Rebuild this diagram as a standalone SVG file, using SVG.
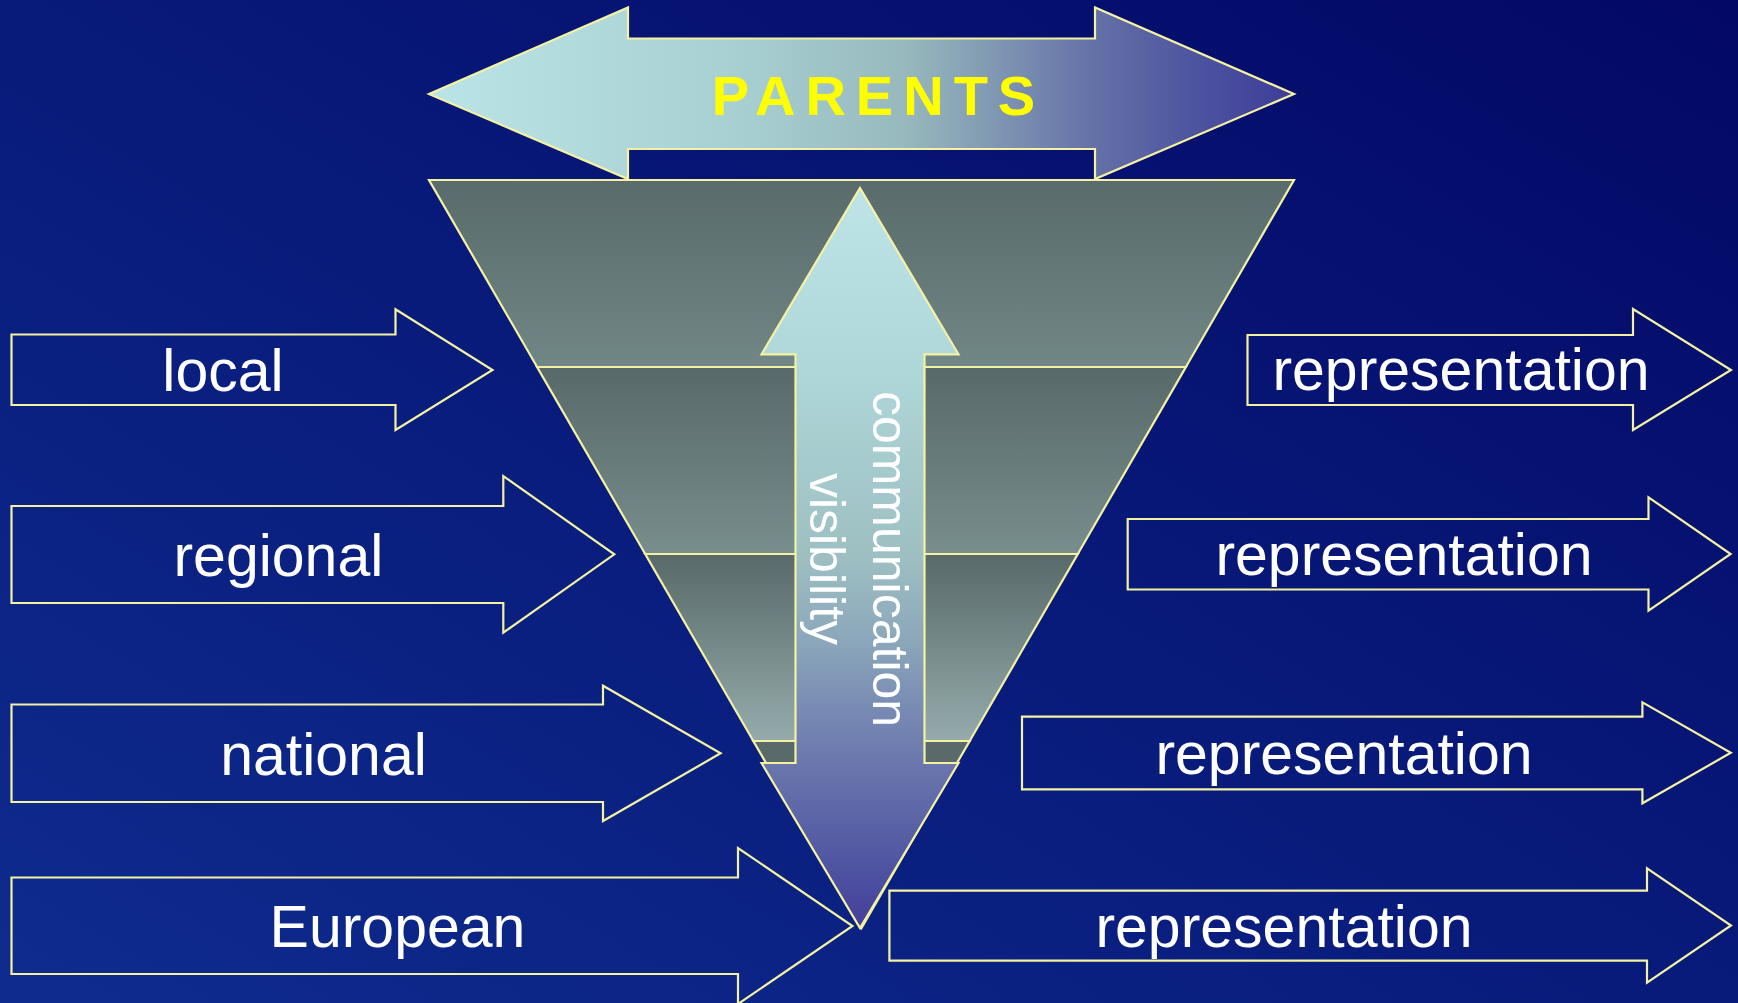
<svg xmlns="http://www.w3.org/2000/svg" width="1738" height="1003" viewBox="0 0 1738 1003">
<defs>
<linearGradient id="bg" x1="0" y1="1" x2="1" y2="0">
<stop offset="0" stop-color="#0e2c8e"/>
<stop offset="0.5" stop-color="#081a7a"/>
<stop offset="1" stop-color="#030866"/>
</linearGradient>
<linearGradient id="hgrad" gradientUnits="userSpaceOnUse" x1="429" y1="0" x2="1294" y2="0">
<stop offset="0" stop-color="#bae4e7"/>
<stop offset="0.35" stop-color="#a8d0d2"/>
<stop offset="0.55" stop-color="#97b9bd"/>
<stop offset="0.65" stop-color="#8199b3"/>
<stop offset="0.76" stop-color="#6673a8"/>
<stop offset="0.88" stop-color="#4e55a0"/>
<stop offset="1" stop-color="#3d3c98"/>
</linearGradient>
<linearGradient id="vgrad" gradientUnits="userSpaceOnUse" x1="0" y1="188" x2="0" y2="928">
<stop offset="0" stop-color="#bde5e8"/>
<stop offset="0.23" stop-color="#b0d8da"/>
<stop offset="0.5" stop-color="#9dbfc2"/>
<stop offset="0.62" stop-color="#8aa5ba"/>
<stop offset="0.69" stop-color="#7b8fb5"/>
<stop offset="0.78" stop-color="#6a76ad"/>
<stop offset="0.91" stop-color="#5056a2"/>
<stop offset="1" stop-color="#453e9b"/>
</linearGradient>
<linearGradient id="band1" x1="0" y1="0" x2="0" y2="1">
<stop offset="0" stop-color="#596b6b"/>
<stop offset="1" stop-color="#718686"/>
</linearGradient>
<linearGradient id="band2" x1="0" y1="0" x2="0" y2="1">
<stop offset="0" stop-color="#586969"/>
<stop offset="1" stop-color="#788d8d"/>
</linearGradient>
<linearGradient id="band3" x1="0" y1="0" x2="0" y2="1">
<stop offset="0" stop-color="#586969"/>
<stop offset="1" stop-color="#95abab"/>
</linearGradient>
<style>
.ln{stroke:#f4f2a2;stroke-width:2.2;stroke-linejoin:miter}
.box{fill:none}
.lbl{font-family:"Liberation Sans",Arial,sans-serif;font-size:59px;fill:#ffffff;text-anchor:middle}
.vt{font-family:"Liberation Sans",Arial,sans-serif;font-size:50px;fill:#ffffff;text-anchor:middle}
.ttl{font-family:"Liberation Sans",Arial,sans-serif;font-size:56px;font-weight:bold;fill:#ffff00;text-anchor:middle;letter-spacing:10px}
</style>
</defs>
<rect x="0" y="0" width="1738" height="1003" fill="url(#bg)"/>

<g id="pyramid">
<polygon class="ln" fill="url(#band1)" points="429,180 1294,180 1185.9,367 537.1,367"/>
<polygon class="ln" fill="url(#band2)" points="537.1,367 1185.9,367 1077.8,554 645.2,554"/>
<polygon class="ln" fill="url(#band3)" points="645.2,554 1077.8,554 969.7,741 753.3,741"/>
<polygon class="ln" fill="#5a6a6a" points="753.3,741 969.7,741 861.5,928"/>
</g>

<g id="vertical-arrow">
<polygon class="ln" fill="url(#vgrad)" points="860,188 958.5,354.3 924.5,354.3 924.5,763 958.5,763 860,928 761.5,763 795.5,763 795.5,354.3 761.5,354.3"/>
<text class="vt" transform="translate(873,559) rotate(90)">communication</text>
<text class="vt" transform="translate(810,559) rotate(90)">visibility</text>
</g>

<g id="parents">
<polygon class="ln" fill="url(#hgrad)" points="429,94 628,7.5 628,38.5 1095,38.5 1095,7.5 1294,94 1095,179 1095,149 628,149 628,179"/>
<text class="ttl" x="878.5" y="115">PARENTS</text>
</g>

<g id="connectors">
</g>

<g id="local">
<polygon class="ln box" points="11.5,334.5 395.5,334.5 395.5,309.3 492.5,370 395.5,430 395.5,405 11.5,405"/>
<text class="lbl" x="223" y="391">local</text>
</g>
<g id="regional">
<polygon class="ln box" points="11.5,506 503.3,506 503.3,476 614.3,554.3 503.3,632.7 503.3,603 11.5,603"/>
<text class="lbl" x="278.4" y="576">regional</text>
</g>
<g id="national">
<polygon class="ln box" points="11.5,704.5 603,704.5 603,685.7 720.6,753.3 603,821 603,802 11.5,802"/>
<text class="lbl" x="323.5" y="775">national</text>
</g>
<g id="european">
<polygon class="ln box" points="11.5,877.5 738,877.5 738,848 852.5,926 738,1004 738,974 11.5,974"/>
<text class="lbl" x="397.5" y="947">European</text>
</g>

<g id="representation-1">
<polygon class="ln box" points="1247.5,335 1633,335 1633,309 1731,370 1633,430 1633,405 1247.5,405"/>
<text class="lbl" x="1461" y="390">representation</text>
</g>
<g id="representation-2">
<polygon class="ln box" points="1127.7,519 1648.5,519 1648.5,497.3 1730.6,554 1648.5,610.7 1648.5,589.5 1127.7,589.5"/>
<text class="lbl" x="1404" y="575">representation</text>
</g>
<g id="representation-3">
<polygon class="ln box" points="1022,716.7 1642.4,716.7 1642.4,702.3 1730.8,752.8 1642.4,803.3 1642.4,789.3 1022,789.3"/>
<text class="lbl" x="1344" y="773.5">representation</text>
</g>
<g id="representation-4">
<polygon class="ln box" points="889.4,890.7 1647,890.7 1647,868.3 1731,925.5 1647,982.7 1647,960.7 889.4,960.7"/>
<text class="lbl" x="1284" y="947">representation</text>
</g>
</svg>
